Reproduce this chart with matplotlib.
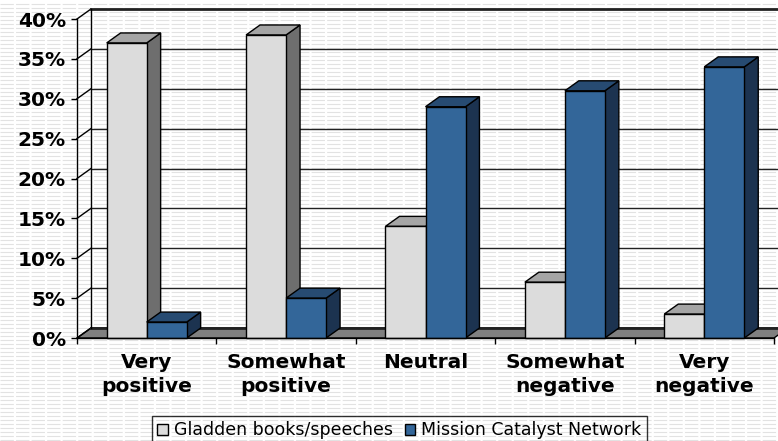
import numpy as np
import matplotlib
matplotlib.use('Agg')
import matplotlib.pyplot as plt
from matplotlib.patches import Polygon, Patch

plt.rcParams['font.family'] = ['DejaVu Sans']

# data
categories = ['Very\npositive', 'Somewhat\npositive', 'Neutral', 'Somewhat\nnegative', 'Very\nnegative']
gladden = [37, 38, 14, 7, 3]
mission = [2, 5, 29, 31, 34]
series_names = ['Gladden books/speeches', 'Mission Catalyst Network']
y_ticks = [0, 5, 10, 15, 20, 25, 30, 35, 40]
y_labels = ['0%', '5%', '10%', '15%', '20%', '25%', '30%', '35%', '40%']

# colours: front, side, top
gray_cols = ('#dcdcdc', '#6e6e6e', '#a5a5a5')
blue_cols = ('#336699', '#1c3350', '#274b72')

fig = plt.figure(figsize=(7.78, 4.41), dpi=100)

# striped background (pattern fill of the original)
bg = fig.add_axes([0, 0, 1, 1], zorder=-10)
bg.set_xlim(0, 1)
bg.set_ylim(0, 441)
bg.hlines(np.arange(1.5, 441, 4), 0, 1, colors='#e2e2e2', lw=0.8, linestyles=(0, (12, 2)))
bg.axis('off')

ax = fig.add_axes([77 / 778, 103 / 441, 697 / 778, 319 / 441])
ax.patch.set_alpha(0)
ax.set_xlim(0, 5)
ax.set_ylim(0, 40)

# depth of the fake 3d, in data units
dx, dy = 0.1, 1.25
n = len(categories)

# floor
ax.add_patch(Polygon([(0, 0), (n, 0), (n + dx, dy), (dx, dy)], closed=True,
                     fc='#808080', ec='black', lw=1, clip_on=False, zorder=1))

# walls and gridlines
for t in y_ticks:
    lw = 2 if t in (0, 40) else 1
    ax.plot([0, dx], [t, t + dy], color='black', lw=1, clip_on=False, zorder=1)
    ax.plot([dx, n + dx], [t + dy, t + dy], color='#222222', lw=lw, clip_on=False, zorder=1)
ax.plot([dx, dx], [dy, 40 + dy], color='black', lw=1, clip_on=False, zorder=1)

# bars
width = 0.287
offsets = [0.213, 0.5]
z = 2
for i in range(n):
    for vals, off, cols in ((gladden, offsets[0], gray_cols), (mission, offsets[1], blue_cols)):
        v = vals[i]
        x0 = i + off
        x1 = x0 + width
        ax.add_patch(Polygon([(x1, 0), (x1, v), (x1 + dx, v + dy), (x1 + dx, dy)], closed=True,
                             fc=cols[1], ec='black', lw=1, clip_on=False, zorder=z))
        ax.add_patch(Polygon([(x0, v), (x1, v), (x1 + dx, v + dy), (x0 + dx, v + dy)], closed=True,
                             fc=cols[2], ec='black', lw=1, clip_on=False, zorder=z))
        ax.bar(x0, v, width=width, align='edge', color=cols[0], edgecolor='black', lw=1,
               zorder=z + 1, clip_on=False)
        z += 2

# axes styling
for s in ('top', 'right'):
    ax.spines[s].set_visible(False)
for s in ('left', 'bottom'):
    ax.spines[s].set_linewidth(1)
    ax.spines[s].set_zorder(50)

ax.set_yticks(y_ticks)
ax.set_yticklabels(y_labels, fontsize=14.5, fontweight='bold')
ax.tick_params(axis='y', length=4, width=1, pad=4)

ax.set_xticks(np.arange(n + 1))
ax.set_xticklabels([])
ax.set_xticks(np.arange(n) + 0.5, minor=True)
ax.set_xticklabels(categories, minor=True, fontsize=14.5, fontweight='bold', linespacing=1.3)
ax.tick_params(axis='x', which='major', length=4, width=1)
ax.tick_params(axis='x', which='minor', length=0, pad=11)

handles = [Patch(fc=gray_cols[0], ec='black', lw=1), Patch(fc=blue_cols[0], ec='black', lw=1)]
leg = fig.legend(handles, series_names, loc='upper left', bbox_to_anchor=(152 / 778, 25 / 441),
                 ncol=2, fontsize=12.5, frameon=True, fancybox=False, edgecolor='black',
                 handlelength=0.6, handleheight=0.6, handletextpad=0.35, columnspacing=0.7,
                 borderpad=0.3, borderaxespad=0)
leg.get_frame().set_facecolor('none')
leg.get_frame().set_linewidth(1)

fig.savefig('out.png', dpi=100)
